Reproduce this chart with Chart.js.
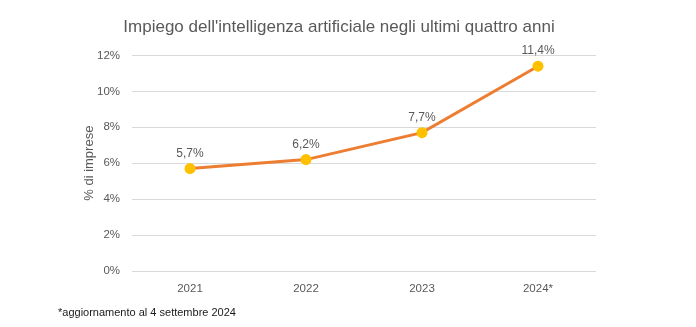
<!DOCTYPE html>
<html>
<head>
<meta charset="utf-8">
<script src="https://cdn.jsdelivr.net/npm/chart.js@4/dist/chart.umd.min.js"></script>
<style>
    html, body { margin: 0; padding: 0; background: #ffffff; }
    canvas { display: block; }
</style>
</head>
<body>
<canvas id="lineChart" width="696" height="327"></canvas>
<script>
// dati del grafico
const anni = ["2021", "2022", "2023", "2024*"];
const percentuali = [5.7, 6.2, 7.7, 11.4];
const titolo = "Impiego dell'intelligenza artificiale negli ultimi quattro anni";
const nota = "*aggiornamento al 4 settembre 2024";

const font = "'Liberation Sans', Arial, sans-serif";
const grigio = "#595959";

// etichette sopra i punti
const etichette = {
    id: "etichette",
    afterDatasetsDraw(chart) {
        const ctx = chart.ctx;
        const meta = chart.getDatasetMeta(0);
        ctx.save();
        ctx.font = "12px " + font;
        ctx.fillStyle = grigio;
        ctx.textAlign = "center";
        ctx.textBaseline = "bottom";
        meta.data.forEach((p, i) => {
            const testo = percentuali[i].toFixed(1).replace(".", ",") + "%";
            ctx.fillText(testo, p.x, p.y - 9);
        });
        ctx.restore();
    }
};

// nota a piè di pagina
const piede = {
    id: "piede",
    afterDraw(chart) {
        const ctx = chart.ctx;
        ctx.save();
        ctx.font = "11px " + font;
        ctx.fillStyle = "#1a1a1a";
        ctx.textAlign = "left";
        ctx.textBaseline = "middle";
        ctx.fillText(nota, 58, 313);
        ctx.restore();
    }
};

const ctx = document.getElementById("lineChart").getContext("2d");
new Chart(ctx, {
    type: "line",
    data: {
        labels: anni,
        datasets: [
            {
                data: percentuali,
                borderColor: "#ED7D31",
                borderWidth: 3,
                pointBackgroundColor: "#FFC000",
                pointBorderColor: "#FFC000",
                pointRadius: 4,
                tension: 0,
            },
        ],
    },
    options: {
        responsive: false,
        animation: false,
        layout: {
            padding: { left: 82, right: 100, top: 0, bottom: 16 },
        },
        plugins: {
            legend: { display: false },
            tooltip: { enabled: false },
            title: {
                display: true,
                text: titolo,
                color: grigio,
                font: { family: font, size: 17, weight: "normal" },
                padding: { top: 17, bottom: 18 },
            },
        },
        scales: {
            x: {
                offset: true,
                grid: { display: false },
                border: { display: false },
                ticks: {
                    color: grigio,
                    font: { family: font, size: 11.5 },
                    padding: 3,
                },
                afterFit(scale) {
                    scale.height = 40;
                },
            },
            y: {
                min: 0,
                max: 12,
                border: { display: false },
                grid: { color: "#d9d9d9", drawTicks: false },
                ticks: {
                    stepSize: 2,
                    color: grigio,
                    font: { family: font, size: 11.5 },
                    padding: 12,
                    callback: (v) => v + "%",
                },
                title: {
                    display: true,
                    text: "% di imprese",
                    color: grigio,
                    font: { family: font, size: 13 },
                    padding: 0,
                },
                afterFit(scale) {
                    scale.width = 50;
                },
            },
        },
    },
    plugins: [etichette, piede],
});
</script>
</body>
</html>
